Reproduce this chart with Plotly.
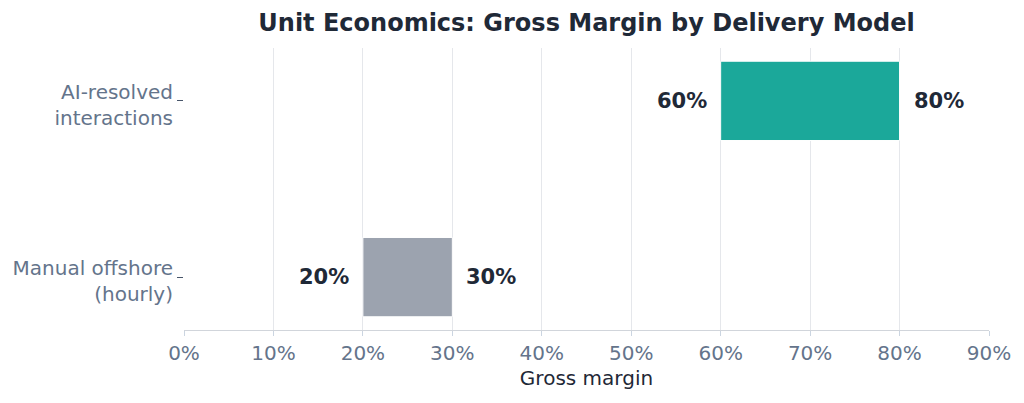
import plotly.graph_objects as go

categories = ["Manual offshore<br>(hourly)", "AI-resolved<br>interactions"]
low_values = [20, 60]
high_values = [30, 80]
bar_colors = ["#9CA3AF", "#1BA89A"]
x_ticks = [0, 10, 20, 30, 40, 50, 60, 70, 80, 90]
x_tick_labels = [f"{t}%" for t in x_ticks]

FONT = "DejaVu Sans"
DARK = "#1f2937"
MUTED = "#64748b"

fig = go.Figure()
fig.add_trace(go.Bar(
    y=categories,
    x=[h - l for h, l in zip(high_values, low_values)],
    base=low_values,
    orientation="h",
    width=0.45,
    marker=dict(color=bar_colors, line=dict(color="white", width=1)),
    hoverinfo="skip",
))

for cat, lo, hi in zip(categories, low_values, high_values):
    fig.add_annotation(x=lo, y=cat, xref="x", yref="y", text=f"<b>{lo}%</b>",
                       showarrow=False, xanchor="right", yanchor="middle", xshift=-12,
                       font=dict(family=FONT, size=21, color=DARK))
    fig.add_annotation(x=hi, y=cat, xref="x", yref="y", text=f"<b>{hi}%</b>",
                       showarrow=False, xanchor="left", yanchor="middle", xshift=12,
                       font=dict(family=FONT, size=21, color=DARK))

fig.update_layout(
    width=1024, height=403,
    margin=dict(l=184, r=35, t=48, b=73),
    paper_bgcolor="white", plot_bgcolor="white",
    showlegend=False,
    font=dict(family=FONT, color=MUTED),
    title=dict(
        text="<b>Unit Economics: Gross Margin by Delivery Model</b>",
        x=0.5, xref="paper", xanchor="center",
        y=0.945, yref="container", yanchor="middle",
        font=dict(family=FONT, size=24, color=DARK),
    ),
    xaxis=dict(
        range=[0, 90], tickvals=x_ticks, ticktext=x_tick_labels,
        showgrid=True, gridcolor="#e5e7eb", gridwidth=1,
        zeroline=False,
        showline=True, linecolor="#d1d5db", linewidth=1,
        ticks="outside", ticklen=5, tickcolor="#cbd5e1",
        tickfont=dict(family=FONT, size=20, color=MUTED),
        title=dict(text="Gross margin", font=dict(family=FONT, size=20, color=DARK), standoff=6),
    ),
    yaxis=dict(
        type="category", categoryorder="array", categoryarray=categories,
        range=[-0.3, 1.3],
        showgrid=False, zeroline=False, showline=False,
        ticks="outside", ticklen=6, tickcolor="#475569", tickwidth=1.3,
        ticklabelshift=4,
        tickfont=dict(family=FONT, size=20, color=MUTED),
    ),
)

fig.write_html("out.html")
